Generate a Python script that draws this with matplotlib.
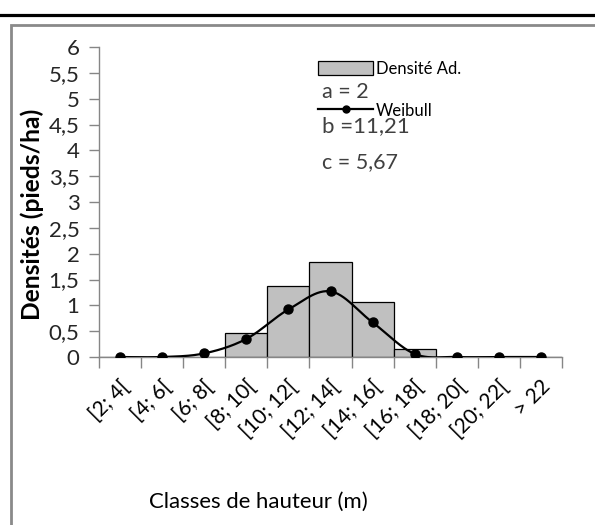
import numpy as np
import matplotlib
matplotlib.use("Agg")
import matplotlib.pyplot as plt
from matplotlib.lines import Line2D
from matplotlib.patches import Patch
from matplotlib.transforms import ScaledTranslation

categories = ["[2; 4[", "[4; 6[", "[6; 8[", "[8; 10[", "[10; 12[", "[12; 14[",
              "[14; 16[", "[16; 18[", "[18; 20[", "[20; 22[", "> 22"]
densite_ad = [0, 0, 0, 0.47, 1.37, 1.83, 1.07, 0.15, 0, 0, 0]
weibull = [0, 0, 0.07, 0.35, 0.92, 1.27, 0.67, 0.06, 0, 0, 0]
yticks = [0, 0.5, 1, 1.5, 2, 2.5, 3, 3.5, 4, 4.5, 5, 5.5, 6]
params_text = ["a = 2", "b =11,21", "c = 5,67"]

plt.rcParams['font.family'] = ['Lato', 'DejaVu Sans']

W, H = 595, 525
fig = plt.figure(figsize=(W / 100, H / 100), dpi=100)

def fx(px):
    return px / W

def fy(py):
    return 1 - py / H

# top black rule and gray frame
fig.add_artist(Line2D([0, 1], [fy(14.5), fy(14.5)], color='black', lw=2.3, transform=fig.transFigure))
fig.add_artist(Line2D([fx(10.5), fx(10.5), 1.0], [0, fy(24.5), fy(24.5)], color='#8a8a8a', lw=2.0,
                      transform=fig.transFigure, solid_joinstyle='miter'))

ax = fig.add_axes([fx(99), fy(357), fx(562) - fx(99), fy(47) - fy(357)])
x = np.arange(len(categories))

ax.bar(x, densite_ad, width=1.0, color='#c0c0c0', edgecolor='black', linewidth=0.9, zorder=2)

# smoothed curve (Catmull-Rom style, like Excel smoothed line)
px = np.array(x, dtype=float)
py = np.array(weibull, dtype=float)
xs, ys = [], []
n = len(px)
for i in range(n - 1):
    p0 = np.array([px[max(i - 1, 0)], py[max(i - 1, 0)]])
    p1 = np.array([px[i], py[i]])
    p2 = np.array([px[i + 1], py[i + 1]])
    p3 = np.array([px[min(i + 2, n - 1)], py[min(i + 2, n - 1)]])
    c1 = p1 + (p2 - p0) / 6
    c2 = p2 - (p3 - p1) / 6
    t = np.linspace(0, 1, 30)[:, None]
    seg = (1 - t) ** 3 * p1 + 3 * (1 - t) ** 2 * t * c1 + 3 * (1 - t) * t ** 2 * c2 + t ** 3 * p2
    xs.extend(seg[:, 0])
    ys.extend(seg[:, 1])
ax.plot(xs, ys, color='black', lw=1.6, zorder=3)
ax.plot(x, weibull, 'o', color='black', ms=6.5, zorder=4)

ax.set_xlim(-0.5, len(categories) - 0.5)
ax.set_ylim(0, 6)
ax.set_yticks(yticks)
ax.set_yticklabels([("%g" % v).replace('.', ',') for v in yticks], fontsize=16, color='#262626')
ax.set_xticks(np.arange(-0.5, len(categories), 1.0))
ax.set_xticklabels([])
ax.set_xticks(x, minor=True)
ax.set_xticklabels(categories, minor=True, rotation=45, ha='right', va='center',
                   rotation_mode='anchor', fontsize=15, color='black')
ax.tick_params(axis='x', which='minor', length=0, pad=19)
offset = ScaledTranslation(6 / 100, 0, fig.dpi_scale_trans)
for lab in ax.get_xticklabels(minor=True):
    lab.set_transform(lab.get_transform() + offset)
ax.tick_params(axis='x', which='major', length=8, color='#868686', width=1)
ax.tick_params(axis='y', length=7, color='#868686', width=1, pad=7)

for s in ['top', 'right']:
    ax.spines[s].set_visible(False)
for s in ['left', 'bottom']:
    ax.spines[s].set_color('#868686')
    ax.spines[s].set_linewidth(1)

ylab = fig.text(fx(32), fy(214), "Densités (pieds/ha)", rotation=90, ha='center', va='center',
                fontsize=15, fontweight='bold', color='black')
xlab = fig.text(fx(258), fy(502), "Classes de hauteur (m)", ha='center', va='center', fontsize=16,
                color='black')

# fit label sizes to the reference lengths (pixels)
fig.canvas.draw()
r = fig.canvas.get_renderer()
hy = ylab.get_window_extent(r).height
ylab.set_fontsize(15 * 212 / hy)
wx = xlab.get_window_extent(r).width
xlab.set_fontsize(16 * 220 / wx)

handles = [Patch(facecolor='#c0c0c0', edgecolor='black', linewidth=0.9),
           Line2D([0], [0], color='black', lw=1.6, marker='o', ms=5)]
leg = fig.legend(handles, ["Densité Ad.", "Weibull"], loc='upper left',
                 bbox_to_anchor=(fx(318), fy(61)), frameon=False, fontsize=12,
                 handlelength=3.3, handleheight=0.9, handletextpad=0.15, labelspacing=1.55,
                 borderaxespad=0, borderpad=0)

for txt, ypx, fs in zip(params_text, [92, 126, 162], [15.5, 16, 15.5]):
    fig.text(fx(322), fy(ypx), txt, ha='left', va='center', fontsize=fs, color='#404040')

fig.savefig("out.png", dpi=100)
